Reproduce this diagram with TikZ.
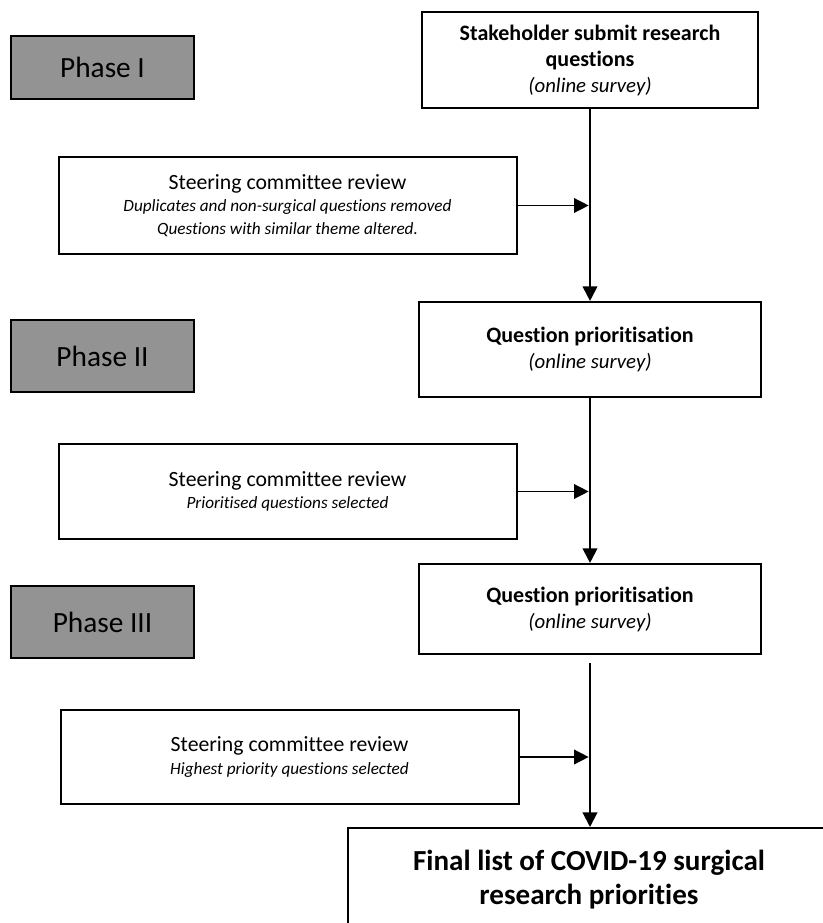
\documentclass[tikz,border=0pt]{standalone}
\usepackage{fontspec}
\setmainfont{Carlito}[Ligatures=NoCommon]
\usetikzlibrary{arrows.meta}
\definecolor{phasegray}{RGB}{147,147,147}
\begin{document}
\begin{tikzpicture}[x=0.75pt,y=-0.75pt,
  phasebox/.style={draw=black, line width=1.7pt, fill=phasegray, inner sep=0pt,
    minimum width=137.25pt, font=\fontsize{22}{26}\selectfont},
  stepbox/.style={draw=black, line width=1.5pt, fill=white, inner sep=0pt, align=center},
  reviewbox/.style={draw=black, line width=1.5pt, fill=white, inner sep=0pt, align=center,
    minimum width=343.5pt, font=\fontsize{16.3}{17}\selectfont},
  flow/.style={line width=1.5pt, -{Triangle[length=11pt,width=11pt]}},
  feed/.style={line width=1.1pt, -{Triangle[length=11pt,width=11pt]}, shorten >=1pt},
]
\useasboundingbox (0,0) rectangle (823,923);
\clip (0,0) rectangle (823,923);

% phase labels
\node[phasebox, minimum height=47.25pt] (p1) at (102.5,67.5) {Phase I};
\node[phasebox, minimum height=54pt] (p2) at (102.5,356) {Phase II};
\node[phasebox, minimum height=54pt] (p3) at (102.5,622) {Phase III};

% main steps
\node[stepbox, line width=1.2pt, minimum width=252pt, minimum height=72pt,
  font=\fontsize{16.5}{19.5}\selectfont] (b1) at (590,60)
  {\bfseries Stakeholder submit research\\ \bfseries questions\\
   \fontsize{15.6}{19.5}\selectfont\itshape (online survey)};
\node[stepbox, line width=1.6pt, minimum width=256.5pt, minimum height=71.25pt,
  font=\fontsize{16.5}{19.5}\selectfont] (b2) at (590,349.5)
  {\bfseries Question prioritisation\\
   \fontsize{15.6}{19.5}\selectfont\itshape (online survey)};
\node[stepbox, line width=1.6pt, minimum width=256.5pt, minimum height=67.5pt,
  font=\fontsize{16.5}{19.5}\selectfont] (b3) at (590,609)
  {\bfseries Question prioritisation\\
   \fontsize{15.6}{19.5}\selectfont\itshape (online survey)};
\node[stepbox, minimum width=361.5pt, minimum height=78pt,
  font=\fontsize{21.8}{25.5}\selectfont] (fin) at (589,880)
  {\bfseries Final list of COVID-19 surgical\\
   \bfseries research priorities};

% steering committee reviews
\node[reviewbox, minimum height=72.75pt] (s1) at (287.5,205.5)
  {Steering committee review\\
   \fontsize{12.9}{17}\selectfont\itshape Duplicates and non-surgical questions removed\\
   \fontsize{12.9}{17}\selectfont\itshape Questions with similar theme altered.};
\node[reviewbox, minimum height=71.25pt] (s2) at (287.5,491.5)
  {Steering committee review\\
   \fontsize{12.9}{17}\selectfont\itshape Prioritised questions selected};
\node[reviewbox, minimum height=70.5pt] (s3) at (289.5,757)
  {Steering committee review\\
   \fontsize{12.9}{17}\selectfont\itshape Highest priority questions selected};

% connectors
\draw[flow] (b1.south) -- (b2.north);
\draw[flow] (b2.south) -- (b3.north);
\draw[flow] ([yshift=-6pt]b3.south) -- (b3.south |- fin.north);
\draw[feed] (s1.east) -- (s1.east -| b1.south);
\draw[feed] (s2.east) -- (s2.east -| b2.south);
\draw[feed] (s3.east) -- (s3.east -| b3.south);
\end{tikzpicture}
\end{document}
